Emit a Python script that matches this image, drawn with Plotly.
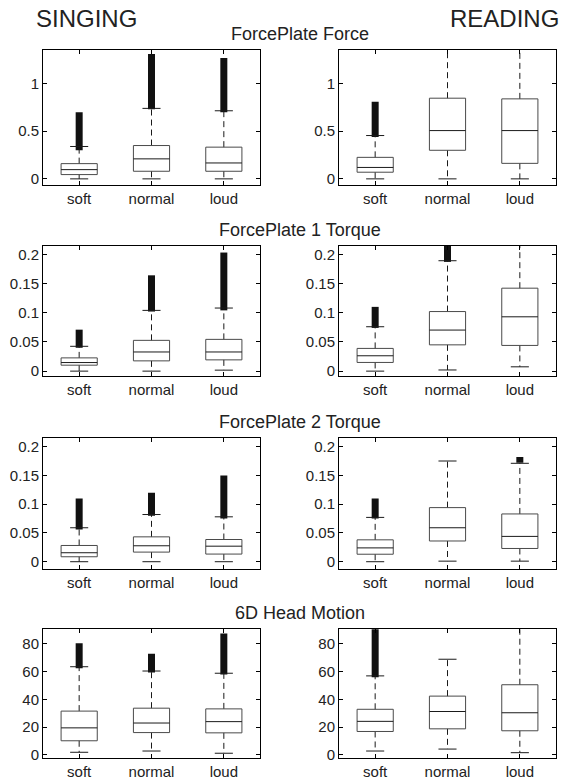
import plotly.graph_objects as go

# ---------------- data ----------------
categories = ["soft", "normal", "loud"]
row_titles = ["ForcePlate Force", "ForcePlate 1 Torque", "ForcePlate 2 Torque", "6D Head Motion"]
col_titles = ["SINGING", "READING"]

# per-row y ranges and tick values
row_ranges = [[-0.06, 1.357], [-0.0085, 0.214], [-0.012, 0.2156], [-2.35, 90.7]]
row_ticks = [[0, 0.5, 1], [0, 0.05, 0.1, 0.15, 0.2], [0, 0.05, 0.1, 0.15, 0.2], [0, 20, 40, 60, 80]]
row_ticktext = [["0", "0.5", "1"], ["0", "0.05", "0.1", "0.15", "0.2"],
                ["0", "0.05", "0.1", "0.15", "0.2"], ["0", "20", "40", "60", "80"]]

# box statistics: lower whisker, q1, median, q3, upper whisker, outlier band low/high
# ForcePlate Force
ff_sing_lo = [0.0, 0.0, 0.0]
ff_sing_q1 = [0.045, 0.08, 0.08]
ff_sing_med = [0.097, 0.21, 0.167]
ff_sing_q3 = [0.16, 0.35, 0.333]
ff_sing_hi = [0.34, 0.74, 0.715]
ff_sing_out_lo = [0.30, 0.73, 0.70]
ff_sing_out_hi = [0.70, 1.31, 1.27]

ff_read_lo = [0.0, 0.0, 0.0]
ff_read_q1 = [0.07, 0.30, 0.163]
ff_read_med = [0.12, 0.507, 0.507]
ff_read_q3 = [0.226, 0.847, 0.84]
ff_read_hi = [0.455, 1.45, 1.45]
ff_read_out_lo = [0.44, None, None]
ff_read_out_hi = [0.81, None, None]

# ForcePlate 1 Torque
t1_sing_lo = [0.0, 0.0, 0.0017]
t1_sing_q1 = [0.0102, 0.0176, 0.0193]
t1_sing_med = [0.0147, 0.0328, 0.0328]
t1_sing_q3 = [0.0227, 0.0527, 0.0544]
t1_sing_hi = [0.0425, 0.104, 0.108]
t1_sing_out_lo = [0.040, 0.102, 0.104]
t1_sing_out_hi = [0.071, 0.164, 0.203]

t1_read_lo = [0.0, 0.002, 0.0074]
t1_read_q1 = [0.0149, 0.045, 0.044]
t1_read_med = [0.0263, 0.0703, 0.093]
t1_read_q3 = [0.0389, 0.102, 0.142]
t1_read_hi = [0.076, 0.189, 0.23]
t1_read_out_lo = [0.074, 0.187, None]
t1_read_out_hi = [0.11, 0.23, None]

# ForcePlate 2 Torque
t2_sing_lo = [0.0, 0.0, 0.0]
t2_sing_q1 = [0.0086, 0.0167, 0.0133]
t2_sing_med = [0.0156, 0.0277, 0.027]
t2_sing_q3 = [0.0282, 0.0432, 0.0386]
t2_sing_hi = [0.059, 0.082, 0.078]
t2_sing_out_lo = [0.056, 0.080, 0.075]
t2_sing_out_hi = [0.11, 0.12, 0.15]

t2_read_lo = [0.0, 0.001, 0.001]
t2_read_q1 = [0.013, 0.036, 0.023]
t2_read_med = [0.024, 0.059, 0.044]
t2_read_q3 = [0.038, 0.094, 0.083]
t2_read_hi = [0.077, 0.175, 0.171]
t2_read_out_lo = [0.075, None, 0.172]
t2_read_out_hi = [0.11, None, 0.182]

# 6D Head Motion
hm_sing_lo = [1.9, 2.8, 1.2]
hm_sing_q1 = [10.2, 16.1, 15.9]
hm_sing_med = [19.5, 23.0, 24.0]
hm_sing_q3 = [31.6, 33.7, 33.2]
hm_sing_hi = [63.6, 60.5, 58.9]
hm_sing_out_lo = [62.5, 59.5, 58.0]
hm_sing_out_hi = [80.5, 73.0, 87.5]

hm_read_lo = [2.8, 4.2, 1.6]
hm_read_q1 = [16.9, 18.8, 17.4]
hm_read_med = [24.2, 31.3, 30.4]
hm_read_q3 = [32.9, 42.4, 50.6]
hm_read_hi = [57.0, 69.0, 95.0]
hm_read_out_lo = [56.0, None, None]
hm_read_out_hi = [95.0, None, None]

panels = [
    (0, 0, ff_sing_lo, ff_sing_q1, ff_sing_med, ff_sing_q3, ff_sing_hi, ff_sing_out_lo, ff_sing_out_hi),
    (0, 1, ff_read_lo, ff_read_q1, ff_read_med, ff_read_q3, ff_read_hi, ff_read_out_lo, ff_read_out_hi),
    (1, 0, t1_sing_lo, t1_sing_q1, t1_sing_med, t1_sing_q3, t1_sing_hi, t1_sing_out_lo, t1_sing_out_hi),
    (1, 1, t1_read_lo, t1_read_q1, t1_read_med, t1_read_q3, t1_read_hi, t1_read_out_lo, t1_read_out_hi),
    (2, 0, t2_sing_lo, t2_sing_q1, t2_sing_med, t2_sing_q3, t2_sing_hi, t2_sing_out_lo, t2_sing_out_hi),
    (2, 1, t2_read_lo, t2_read_q1, t2_read_med, t2_read_q3, t2_read_hi, t2_read_out_lo, t2_read_out_hi),
    (3, 0, hm_sing_lo, hm_sing_q1, hm_sing_med, hm_sing_q3, hm_sing_hi, hm_sing_out_lo, hm_sing_out_hi),
    (3, 1, hm_read_lo, hm_read_q1, hm_read_med, hm_read_q3, hm_read_hi, hm_read_out_lo, hm_read_out_hi),
]

# ---------------- layout geometry (pixels) ----------------
W, H = 561, 784
col_px = [(43, 260), (339, 556)]
row_px = [(49, 185), (247, 378), (440, 572), (633, 763)]
FONT = "Liberation Sans, Arial, Helvetica, sans-serif"

BOX_HALF = 0.25
CAP_HALF = 0.125
BOX_COLOR = "#4a4a4a"
LINE_COLOR = "#1a1a1a"

fig = go.Figure()
layout_axes = {}

for idx, (r, c, lo, q1, med, q3, hi, olo, ohi) in enumerate(panels):
    n = idx + 1
    xa = "x" if n == 1 else f"x{n}"
    ya = "y" if n == 1 else f"y{n}"
    xd = [col_px[c][0] / W, col_px[c][1] / W]
    yd = [1 - row_px[r][1] / H, 1 - row_px[r][0] / H]

    for i in range(len(categories)):
        x = i + 1
        # outlier band (dense '+' markers)
        if olo[i] is not None:
            fig.add_trace(go.Scatter(x=[x, x], y=[olo[i], ohi[i]], mode="lines",
                                     line=dict(color="#111111", width=7),
                                     xaxis=xa, yaxis=ya, hoverinfo="skip", showlegend=False))
        # whiskers (dashed)
        fig.add_trace(go.Scatter(x=[x, x, None, x, x], y=[q3[i], hi[i], None, q1[i], lo[i]],
                                 mode="lines", line=dict(color=LINE_COLOR, width=1, dash="6px,4px"),
                                 xaxis=xa, yaxis=ya, hoverinfo="skip", showlegend=False))
        # caps
        fig.add_trace(go.Scatter(x=[x - CAP_HALF, x + CAP_HALF, None, x - CAP_HALF, x + CAP_HALF],
                                 y=[hi[i], hi[i], None, lo[i], lo[i]],
                                 mode="lines", line=dict(color=LINE_COLOR, width=1),
                                 xaxis=xa, yaxis=ya, hoverinfo="skip", showlegend=False))
        # box
        fig.add_trace(go.Scatter(x=[x - BOX_HALF, x + BOX_HALF, x + BOX_HALF, x - BOX_HALF, x - BOX_HALF],
                                 y=[q1[i], q1[i], q3[i], q3[i], q1[i]],
                                 mode="lines", line=dict(color=BOX_COLOR, width=1),
                                 xaxis=xa, yaxis=ya, hoverinfo="skip", showlegend=False))
        # median
        fig.add_trace(go.Scatter(x=[x - BOX_HALF, x + BOX_HALF], y=[med[i], med[i]],
                                 mode="lines", line=dict(color=LINE_COLOR, width=1),
                                 xaxis=xa, yaxis=ya, hoverinfo="skip", showlegend=False))

    axis_common = dict(showline=True, linecolor="black", linewidth=1, mirror="allticks",
                       ticks="inside", ticklen=4, tickcolor="black", tickwidth=1,
                       showgrid=False, zeroline=False, fixedrange=True,
                       tickfont=dict(family=FONT, size=15, color="#222222"))
    layout_axes["xaxis" if n == 1 else f"xaxis{n}"] = dict(
        domain=xd, range=[0.5, 3.5], tickvals=[1, 2, 3], ticktext=categories,
        anchor=ya, **axis_common)
    layout_axes["yaxis" if n == 1 else f"yaxis{n}"] = dict(
        domain=yd, range=row_ranges[r], tickvals=row_ticks[r], ticktext=row_ticktext[r],
        anchor=xa, **axis_common)

annotations = []
for r, t in enumerate(row_titles):
    annotations.append(dict(text=t, x=300 / W, y=1 - (row_px[r][0] - 16) / H,
                            xref="paper", yref="paper", xanchor="center", yanchor="middle",
                            showarrow=False, font=dict(family=FONT, size=18, color="#222222")))
annotations.append(dict(text=col_titles[0], x=86 / W, y=1 - 18 / H, xref="paper", yref="paper",
                        xanchor="center", yanchor="middle", showarrow=False,
                        font=dict(family=FONT, size=24, color="#222222")))
annotations.append(dict(text=col_titles[1], x=504 / W, y=1 - 18 / H, xref="paper", yref="paper",
                        xanchor="center", yanchor="middle", showarrow=False,
                        font=dict(family=FONT, size=24, color="#222222")))

fig.update_layout(width=W, height=H, margin=dict(l=0, r=0, t=0, b=0),
                  paper_bgcolor="white", plot_bgcolor="white",
                  showlegend=False, annotations=annotations, **layout_axes)

fig.write_html("out.html", config={"displayModeBar": False})
